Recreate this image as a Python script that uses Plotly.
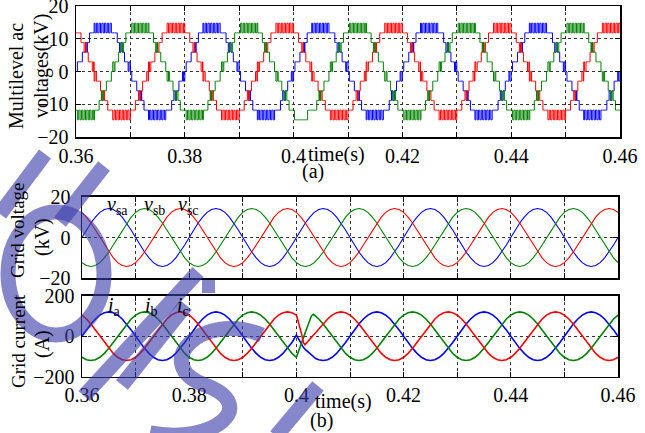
import numpy as np
import plotly.graph_objects as go

# ---------------- data ----------------
T_START, T_END = 0.36, 0.46
CYCLE_S = 0.02                      # 50 Hz
X_TICK_VALS = [0.36, 0.37, 0.38, 0.39, 0.40, 0.41, 0.42, 0.43, 0.44, 0.45, 0.46]
X_TICK_TEXT = ["0.36", "", "0.38", "", "0.4", "", "0.42", "", "0.44", "", "0.46"]

PHASES = ["a", "b", "c"]
PHASE_COLORS = {"a": "#0000ff", "b": "#008000", "c": "#ff0000"}
PHASE_SHIFT_DEG = {"a": 0, "b": -120, "c": 120}

# (a) multilevel converter voltage: level step and quarter-wave staircase
LEVEL_STEP_KV = 2.95
# (start deg, end deg, low level, high level) -> chatter where low != high
STAIR_SEGMENTS = [(0, 8, 0, 1), (8, 20, 1, 1), (20, 28, 2, 2), (28, 37, 2, 3),
                  (37, 45, 3, 3), (45, 60, 4, 4), (60, 90.01, 4, 5)]
CHATTER_SAMPLES = 3                 # samples per switching state inside a chatter band
# clean plateau of phase b just after the event at 0.4 s
STAIR_OVERRIDES = [("b", 0.4001, 0.4025, -5), ("b", 0.4025, 0.4034, -4)]
STAIR_SAMPLES_PER_CYCLE = 240

# (b) grid voltage, phase a, one cycle, 15 deg steps (kV)
GRID_V_CYCLE_A = [0.0, 3.7, 7.1, 10.0, 12.3, 13.7, 14.2, 13.7, 12.3, 10.0, 7.1, 3.7,
                  0.0, -3.7, -7.1, -10.0, -12.3, -13.7, -14.2, -13.7, -12.3, -10.0, -7.1, -3.7]
# grid current, phase a, one cycle before the event, 15 deg steps (A)
GRID_I_CYCLE_A = [0.0, 31.1, 60.0, 84.9, 103.9, 115.9, 120.0, 115.9, 103.9, 84.9, 60.0, 31.1,
                  0.0, -31.1, -60.0, -84.9, -103.9, -115.9, -120.0, -115.9, -103.9, -84.9, -60.0, -31.1]
EVENT_T = 0.40
CURRENT_SIGN_BEFORE, CURRENT_SIGN_AFTER = 1, -1
TRANSIENT_T = [0.4000, 0.4005, 0.4010, 0.4013, 0.4016, 0.4020, 0.4024, 0.4028, 0.4032, 0.4036]
TRANSIENT_I = {
    "a": [5, -20, -42, -55, -64, -74, -84, -94, -103, -110],
    "b": [-104, -64, -29, -7, 14, 43, 71, 100, 108, 100],
    "c": [104, 58, 8, -32, -42, -30, -18, -5, 6, 16],
}

V_LABELS = ["v", "v", "v"]
V_SUBS = ["sa", "sb", "sc"]
I_LABELS = ["i", "i", "i"]
I_SUBS = ["a", "b", "c"]

# ---------------- figure geometry ----------------
W, H = 645, 433
FONT = "Liberation Serif"


def px(x):
    return x / W


def py(y):
    return 1 - y / H


# ---------------- build series ----------------
def stair_level(theta_deg, k):
    th = theta_deg % 360.0
    if th <= 90:
        q, s = th, 1
    elif th < 180:
        q, s = 180 - th, 1
    elif th <= 270:
        q, s = th - 180, -1
    else:
        q, s = 360 - th, -1
    for a0, a1, lo, hi in STAIR_SEGMENTS:
        if a0 <= q < a1:
            lev = lo if lo == hi else (hi if (k // CHATTER_SAMPLES) % 2 else lo)
            return s * lev
    return 0


n_stair = int(round((T_END - T_START) / CYCLE_S * STAIR_SAMPLES_PER_CYCLE)) + 1
k_stair = np.arange(n_stair)
t_stair = T_START + k_stair * CYCLE_S / STAIR_SAMPLES_PER_CYCLE
stair = {}
for p in PHASES:
    lv = np.array([stair_level(k * 360.0 / STAIR_SAMPLES_PER_CYCLE + PHASE_SHIFT_DEG[p], k)
                   for k in k_stair], dtype=float)
    for ph, a, b, lev in STAIR_OVERRIDES:
        if ph == p:
            lv[(t_stair >= a) & (t_stair < b)] = lev
    stair[p] = lv * LEVEL_STEP_KV

n_cyc = len(GRID_V_CYCLE_A)
shift_idx = {p: int(round(PHASE_SHIFT_DEG[p] / 360.0 * n_cyc)) for p in PHASES}
n_sin = int(round((T_END - T_START) / CYCLE_S * n_cyc)) + 1
k_sin = np.arange(n_sin)
t_sin = T_START + k_sin * CYCLE_S / n_cyc
gv = {p: np.array([GRID_V_CYCLE_A[(k + shift_idx[p]) % n_cyc] for k in k_sin]) for p in PHASES}

gi_t, gi_v = {}, {}
for p in PHASES:
    base = np.array([GRID_I_CYCLE_A[(k + shift_idx[p]) % n_cyc] for k in k_sin])
    pre = t_sin < EVENT_T - 1e-9
    post = t_sin > TRANSIENT_T[-1] + 1e-9
    gi_t[p] = np.concatenate([t_sin[pre], TRANSIENT_T, t_sin[post]])
    gi_v[p] = np.concatenate([CURRENT_SIGN_BEFORE * base[pre], TRANSIENT_I[p],
                              CURRENT_SIGN_AFTER * base[post]])

# ---------------- figure ----------------
fig = go.Figure()
for p in ["a", "c", "b"]:
    fig.add_trace(go.Scatter(x=t_stair, y=stair[p], mode="lines", line_shape="hv",
                             line=dict(color=PHASE_COLORS[p], width=1), xaxis="x", yaxis="y",
                             showlegend=False, hoverinfo="skip"))
for p in ["a", "b", "c"]:
    fig.add_trace(go.Scatter(x=t_sin, y=gv[p], mode="lines",
                             line=dict(color=PHASE_COLORS[p], width=1.1), xaxis="x2", yaxis="y2",
                             showlegend=False, hoverinfo="skip"))
for p in ["a", "b", "c"]:
    fig.add_trace(go.Scatter(x=gi_t[p], y=gi_v[p], mode="lines",
                             line=dict(color=PHASE_COLORS[p], width=1.6), xaxis="x3", yaxis="y3",
                             showlegend=False, hoverinfo="skip"))

axis_common = dict(showline=True, mirror="ticks", linecolor="black", linewidth=1.5,
                   ticks="inside", ticklen=5, tickcolor="black", tickwidth=1,
                   showgrid=True, gridcolor="#333333", gridwidth=1, griddash="dot",
                   zeroline=False, automargin=False, ticklabeloverflow="allow",
                   tickfont=dict(family=FONT, size=20, color="black"))

xa = dict(axis_common, range=[T_START, T_END], tickmode="array",
          tickvals=X_TICK_VALS, ticktext=X_TICK_TEXT)

fig.update_layout(
    template="none",
    width=W, height=H, margin=dict(l=0, r=0, t=0, b=0, autoexpand=False),
    paper_bgcolor="white", plot_bgcolor="white", showlegend=False,
    xaxis=dict(xa, domain=[px(76), px(620)], anchor="y", ticklabelstandoff=0),
    yaxis=dict(axis_common, domain=[py(137), py(6)], anchor="x", range=[-20, 20],
               tickmode="array", tickvals=[-20, -10, 0, 10, 20], ticklabelstandoff=2),
    xaxis2=dict(xa, domain=[px(82), px(618)], anchor="y2", showticklabels=False),
    yaxis2=dict(axis_common, domain=[py(278.3), py(196.7)], anchor="x2", range=[-20, 20],
                tickmode="array", tickvals=[-20, 0, 20], ticklabelstandoff=6),
    xaxis3=dict(xa, domain=[px(82), px(618)], anchor="y3", ticklabelstandoff=0),
    yaxis3=dict(axis_common, domain=[py(376.7), py(295.7)], anchor="x3", range=[-200, 200],
                tickmode="array", tickvals=[-200, 0, 200], ticklabelstandoff=2),
)

ann = []


def text(x, y, s, size=20, angle=0, xanchor="center", yanchor="middle"):
    ann.append(dict(x=px(x), y=py(y), xref="paper", yref="paper", text=s, showarrow=False,
                    textangle=angle, xanchor=xanchor, yanchor=yanchor,
                    font=dict(family=FONT, size=size, color="black")))


text(16, 76, "Multilevel ac", angle=-90)
text(42, 66, "voltages(kV)", angle=-90)
text(336, 154, "time(s)")
text(313, 172, "(a)")
text(18, 230, "Grid voltage", size=19, angle=-90)
text(42, 237, "(kV)", angle=-90)
text(18, 341, "Grid current", size=19, angle=-90)
text(42, 344, "(A)", angle=-90)
text(343, 401, "time(s)")
text(321, 420, "(b)")
for xv, lab, sub in zip([105, 142, 176], V_LABELS, V_SUBS):
    text(xv, 206, "<i>%s</i><sub>%s</sub>" % (lab, sub), xanchor="left")
for xv, lab, sub in zip([106, 143, 175], I_LABELS, I_SUBS):
    text(xv, 306, "<i>%s</i><sub>%s</sub>" % (lab, sub), xanchor="left")
fig.update_layout(annotations=ann)

# ---------------- watermark overlay (decoration) ----------------
WM = "rgba(60,60,170,0.62)"
shapes = []


def wline(x0, y0, x1, y1, w=15):
    shapes.append(dict(type="line", xref="paper", yref="paper", x0=px(x0), y0=py(y0),
                       x1=px(x1), y1=py(y1), line=dict(color=WM, width=w), layer="above"))


wline(45, 154, 0, 214)
wline(104, 166, 60, 222)
shapes.append(dict(type="circle", xref="paper", yref="paper", x0=px(8), x1=px(104),
                   y0=py(212), y1=py(335), line=dict(color=WM, width=15), layer="above"))
wline(198, 272, 84, 396)
shapes.append(dict(type="rect", xref="paper", yref="paper", x0=px(202), x1=px(215),
                   y0=py(280), y1=py(293), fillcolor=WM, line=dict(width=0), layer="above"))
wline(186, 305, 122, 385)
shapes.append(dict(type="path", xref="paper", yref="paper", layer="above",
                   path="M %f %f C %f %f %f %f %f %f S %f %f %f %f" % (
                       px(262), py(335), px(200), py(310), px(150), py(365), px(205), py(385),
                       px(215), py(445), px(150), py(433)),
                   line=dict(color=WM, width=15)))
wline(318, 386, 276, 436)
fig.update_layout(shapes=shapes)

fig.write_html("out.html", config={"displayModeBar": False, "staticPlot": True},
               post_script="document.body.style.margin='0';document.body.style.padding='0';")
